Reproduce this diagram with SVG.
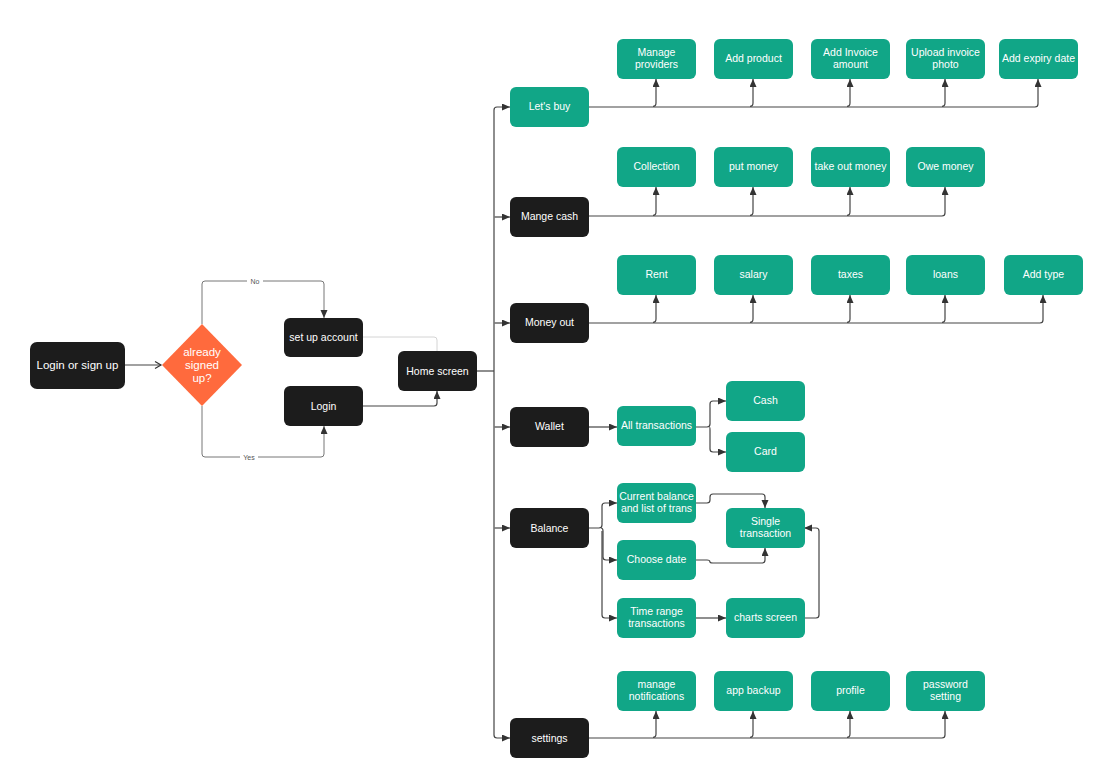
<svg xmlns="http://www.w3.org/2000/svg" width="1112" height="782" viewBox="0 0 1112 782">
  <defs>
    <marker id="arr" markerUnits="userSpaceOnUse" markerWidth="9" markerHeight="8" refX="8" refY="3.5" orient="auto">
      <path d="M0,0 L8,3.5 L0,7 z" fill="#333"/>
    </marker>
    <marker id="open" markerUnits="userSpaceOnUse" markerWidth="10" markerHeight="10" refX="7" refY="4" orient="auto">
      <path d="M1,0.5 L7,4 L1,7.5" fill="none" stroke="#333" stroke-width="1.2"/>
    </marker>
    <style>
      .dark { fill: #1c1c1c; }
      .green { fill: #11a687; }
      .t { font-family: "Liberation Sans", Arial, sans-serif; font-size: 10.5px; fill: #fff; text-anchor: middle; }
      .lbl { font-family: "Liberation Sans", Arial, sans-serif; font-size: 7px; fill: #555; text-anchor: middle; }
      .c { fill: none; stroke: #444; stroke-width: 1.2; }
      .cg { fill: none; stroke: #777; stroke-width: 1; }
      .cl { fill: none; stroke: #d4d4d4; stroke-width: 1; }
    </style>
  </defs>
  <rect width="1112" height="782" fill="#fff"/>

  <!-- connectors -->
  <g id="connectors">
    <path class="c" d="M125,365 H161" marker-end="url(#open)"/>
    <path class="cg" d="M202,324 V284 Q202,281 205,281 H321 Q324,281 324,284 V318" marker-end="url(#arr)"/>
    <path class="cg" d="M202,406 V454 Q202,457 205,457 H321 Q324,457 324,454 V426" marker-end="url(#arr)"/>
    <rect x="247" y="277" width="16" height="8" fill="#fff"/>
    <text class="lbl" x="255" y="283.5">No</text>
    <rect x="240" y="453" width="18" height="8" fill="#fff"/>
    <text class="lbl" x="249" y="459.5">Yes</text>
    <path class="cl" d="M363,337 H434 Q437,337 437,340 V351"/>
    <path class="c" d="M363,406 H434 Q437,406 437,403 V391" marker-end="url(#arr)"/>

    <!-- trunk from home screen to every section -->
    <path class="c" d="M477,371 H494"/>
    <path class="c" d="M494,110 Q494,107 497,107 H510" marker-end="url(#arr)"/>
    <path class="c" d="M494,110 V735 Q494,738 497,738 H510" marker-end="url(#arr)"/>
    <path class="c" d="M494.6,217 H510" marker-end="url(#arr)"/>
    <path class="c" d="M494.6,323 H510" marker-end="url(#arr)"/>
    <path class="c" d="M494.6,427 H510" marker-end="url(#arr)"/>
    <path class="c" d="M494.6,528 H510" marker-end="url(#arr)"/>

    <!-- Let's buy row -->
    <path class="c" d="M589,107 H1035 Q1038,107 1038,104 V79" marker-end="url(#arr)"/>
    <path class="c" d="M653,106.4 Q656,106.4 656,103 V79" marker-end="url(#arr)"/>
    <path class="c" d="M750,106.4 Q753,106.4 753,103 V79" marker-end="url(#arr)"/>
    <path class="c" d="M847,106.4 Q850,106.4 850,103 V79" marker-end="url(#arr)"/>
    <path class="c" d="M942,106.4 Q945,106.4 945,103 V79" marker-end="url(#arr)"/>

    <!-- Mange cash row -->
    <path class="c" d="M589,216 H942 Q945,216 945,213 V187" marker-end="url(#arr)"/>
    <path class="c" d="M653,215.4 Q656,215.4 656,212 V187" marker-end="url(#arr)"/>
    <path class="c" d="M750,215.4 Q753,215.4 753,212 V187" marker-end="url(#arr)"/>
    <path class="c" d="M847,215.4 Q850,215.4 850,212 V187" marker-end="url(#arr)"/>

    <!-- Money out row -->
    <path class="c" d="M589,323 H1040 Q1043,323 1043,320 V295" marker-end="url(#arr)"/>
    <path class="c" d="M653,322.4 Q656,322.4 656,319 V295" marker-end="url(#arr)"/>
    <path class="c" d="M750,322.4 Q753,322.4 753,319 V295" marker-end="url(#arr)"/>
    <path class="c" d="M847,322.4 Q850,322.4 850,319 V295" marker-end="url(#arr)"/>
    <path class="c" d="M942,322.4 Q945,322.4 945,319 V295" marker-end="url(#arr)"/>

    <!-- Wallet -->
    <path class="c" d="M589,427 H617" marker-end="url(#arr)"/>
    <path class="c" d="M696,427 H707 Q710,427 710,424 V404 Q710,401 713,401 H726" marker-end="url(#arr)"/>
    <path class="c" d="M709.4,427 Q710,427 710,430 V449 Q710,452 713,452 H726" marker-end="url(#arr)"/>

    <!-- Balance -->
    <path class="c" d="M589,528 H599 Q602,528 602,525 V506 Q602,503 605,503 H617" marker-end="url(#arr)"/>
    <path class="c" d="M601,528 Q603,528 603,531 V557 Q603,560 606,560 H617" marker-end="url(#arr)"/>
    <path class="c" d="M602,531 V615 Q602,618 605,618 H617" marker-end="url(#arr)"/>
    <path class="c" d="M696,503 H707 Q710,503 710,500 V497 Q710,494 713,494 H762 Q765,494 765,497 V508" marker-end="url(#arr)"/>
    <path class="c" d="M696,560 H707 Q710,560 710,562 Q710,563 713,563 H762 Q765,563 765,560 V548" marker-end="url(#arr)"/>
    <path class="c" d="M696,618 H726" marker-end="url(#arr)"/>
    <path class="c" d="M804,618 H816 Q819,618 819,615 V531 Q819,528 816,528 H804" marker-end="url(#arr)"/>

    <!-- settings row -->
    <path class="c" d="M589,738 H942 Q945,738 945,735 V711" marker-end="url(#arr)"/>
    <path class="c" d="M653,737.4 Q656,737.4 656,734 V711" marker-end="url(#arr)"/>
    <path class="c" d="M750,737.4 Q753,737.4 753,734 V711" marker-end="url(#arr)"/>
    <path class="c" d="M847,737.4 Q850,737.4 850,734 V711" marker-end="url(#arr)"/>
  </g>

  <!-- entry flow -->
  <g id="login-or-signup">
    <rect class="dark" x="30" y="342" width="95" height="47" rx="7"/>
    <text class="t" x="77.5" y="369" style="font-size:11.5px">Login or sign up</text>
  </g>
  <g id="already-signed-up">
    <polygon points="202,324 242,365 202,406 162,365" fill="#ff6a3d"/>
    <text class="t" style="font-size:11.5px" x="202" y="356">already</text>
    <text class="t" style="font-size:11.5px" x="202" y="369">signed</text>
    <text class="t" style="font-size:11.5px" x="202" y="382">up?</text>
  </g>
  <g id="set-up-account">
    <rect class="dark" x="284" y="318" width="79" height="39" rx="6"/>
    <text class="t" x="323.5" y="341">set up account</text>
  </g>
  <g id="login">
    <rect class="dark" x="284" y="386" width="79" height="40" rx="6"/>
    <text class="t" x="323.5" y="409.5">Login</text>
  </g>
  <g id="home-screen">
    <rect class="dark" x="398" y="351" width="79" height="40" rx="6"/>
    <text class="t" x="437.5" y="374.5">Home screen</text>
  </g>

  <!-- main sections -->
  <g id="lets-buy">
    <rect class="green" x="510" y="87" width="79" height="40" rx="6"/>
    <text class="t" x="549.5" y="110">Let's buy</text>
  </g>
  <g id="mange-cash">
    <rect class="dark" x="510" y="197" width="79" height="40" rx="6"/>
    <text class="t" x="549.5" y="219.5">Mange cash</text>
  </g>
  <g id="money-out">
    <rect class="dark" x="510" y="303" width="79" height="40" rx="6"/>
    <text class="t" x="549.5" y="326">Money out</text>
  </g>
  <g id="wallet">
    <rect class="dark" x="510" y="407" width="79" height="40" rx="6"/>
    <text class="t" x="549.5" y="430">Wallet</text>
  </g>
  <g id="balance">
    <rect class="dark" x="510" y="508" width="79" height="40" rx="6"/>
    <text class="t" x="549.5" y="531.5">Balance</text>
  </g>
  <g id="settings">
    <rect class="dark" x="510" y="718" width="79" height="40" rx="6"/>
    <text class="t" x="549.5" y="741.5">settings</text>
  </g>

  <!-- Let's buy options -->
  <g id="manage-providers">
    <rect class="green" x="617" y="39" width="79" height="40" rx="6"/>
    <text class="t" x="656.5" y="56">Manage</text>
    <text class="t" x="656.5" y="68">providers</text>
  </g>
  <g id="add-product">
    <rect class="green" x="714" y="39" width="79" height="40" rx="6"/>
    <text class="t" x="753.5" y="62">Add product</text>
  </g>
  <g id="add-invoice-amount">
    <rect class="green" x="811" y="39" width="79" height="40" rx="6"/>
    <text class="t" x="850.5" y="56">Add Invoice</text>
    <text class="t" x="850.5" y="68">amount</text>
  </g>
  <g id="upload-invoice-photo">
    <rect class="green" x="906" y="39" width="79" height="40" rx="6"/>
    <text class="t" x="945.5" y="56">Upload invoice</text>
    <text class="t" x="945.5" y="68">photo</text>
  </g>
  <g id="add-expiry-date">
    <rect class="green" x="999" y="39" width="79" height="40" rx="6"/>
    <text class="t" x="1038.5" y="62">Add expiry date</text>
  </g>

  <!-- Mange cash options -->
  <g id="collection">
    <rect class="green" x="617" y="147" width="79" height="40" rx="6"/>
    <text class="t" x="656.5" y="170">Collection</text>
  </g>
  <g id="put-money">
    <rect class="green" x="714" y="147" width="79" height="40" rx="6"/>
    <text class="t" x="753.5" y="170">put money</text>
  </g>
  <g id="take-out-money">
    <rect class="green" x="811" y="147" width="79" height="40" rx="6"/>
    <text class="t" x="850.5" y="170">take out money</text>
  </g>
  <g id="owe-money">
    <rect class="green" x="906" y="147" width="79" height="40" rx="6"/>
    <text class="t" x="945.5" y="170">Owe money</text>
  </g>

  <!-- Money out options -->
  <g id="rent">
    <rect class="green" x="617" y="255" width="79" height="40" rx="6"/>
    <text class="t" x="656.5" y="278">Rent</text>
  </g>
  <g id="salary">
    <rect class="green" x="714" y="255" width="79" height="40" rx="6"/>
    <text class="t" x="753.5" y="278">salary</text>
  </g>
  <g id="taxes">
    <rect class="green" x="811" y="255" width="79" height="40" rx="6"/>
    <text class="t" x="850.5" y="278">taxes</text>
  </g>
  <g id="loans">
    <rect class="green" x="906" y="255" width="79" height="40" rx="6"/>
    <text class="t" x="945.5" y="278">loans</text>
  </g>
  <g id="add-type">
    <rect class="green" x="1004" y="255" width="79" height="40" rx="6"/>
    <text class="t" x="1043.5" y="278">Add type</text>
  </g>

  <!-- Wallet -->
  <g id="all-transactions">
    <rect class="green" x="617" y="406" width="79" height="40" rx="6"/>
    <text class="t" x="656.5" y="429">All transactions</text>
  </g>
  <g id="cash">
    <rect class="green" x="726" y="381" width="79" height="40" rx="6"/>
    <text class="t" x="765.5" y="404">Cash</text>
  </g>
  <g id="card">
    <rect class="green" x="726" y="432" width="79" height="40" rx="6"/>
    <text class="t" x="765.5" y="455">Card</text>
  </g>

  <!-- Balance -->
  <g id="current-balance">
    <rect class="green" x="617" y="483" width="79" height="40" rx="6"/>
    <text class="t" x="656.5" y="500">Current balance</text>
    <text class="t" x="656.5" y="512">and list of trans</text>
  </g>
  <g id="choose-date">
    <rect class="green" x="617" y="540" width="79" height="40" rx="6"/>
    <text class="t" x="656.5" y="563">Choose date</text>
  </g>
  <g id="time-range-transactions">
    <rect class="green" x="617" y="598" width="79" height="40" rx="6"/>
    <text class="t" x="656.5" y="615">Time range</text>
    <text class="t" x="656.5" y="627">transactions</text>
  </g>
  <g id="single-transaction">
    <rect class="green" x="726" y="508" width="79" height="40" rx="6"/>
    <text class="t" x="765.5" y="525">Single</text>
    <text class="t" x="765.5" y="537">transaction</text>
  </g>
  <g id="charts-screen">
    <rect class="green" x="726" y="598" width="79" height="40" rx="6"/>
    <text class="t" x="765.5" y="621">charts screen</text>
  </g>

  <!-- settings options -->
  <g id="manage-notifications">
    <rect class="green" x="617" y="671" width="79" height="40" rx="6"/>
    <text class="t" x="656.5" y="688">manage</text>
    <text class="t" x="656.5" y="700">notifications</text>
  </g>
  <g id="app-backup">
    <rect class="green" x="714" y="671" width="79" height="40" rx="6"/>
    <text class="t" x="753.5" y="694">app backup</text>
  </g>
  <g id="profile">
    <rect class="green" x="811" y="671" width="79" height="40" rx="6"/>
    <text class="t" x="850.5" y="694">profile</text>
  </g>
  <g id="password-setting">
    <rect class="green" x="906" y="671" width="79" height="40" rx="6"/>
    <text class="t" x="945.5" y="688">password</text>
    <text class="t" x="945.5" y="700">setting</text>
  </g>
</svg>
